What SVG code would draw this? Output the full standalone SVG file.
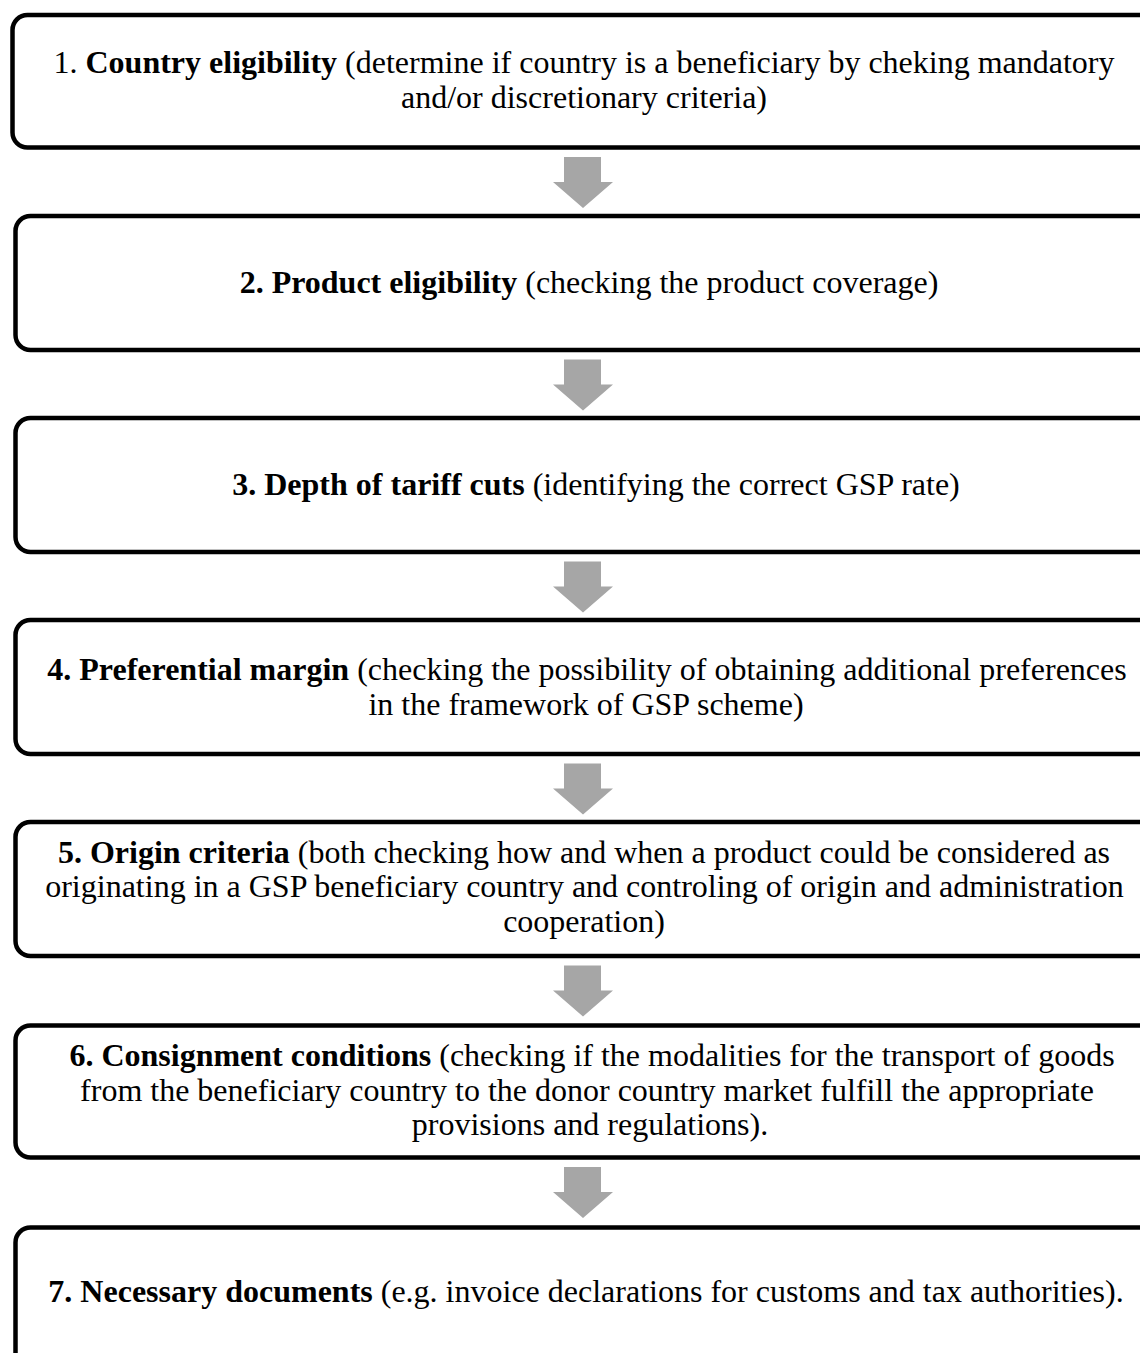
<svg xmlns="http://www.w3.org/2000/svg" width="1140" height="1353" viewBox="0 0 1140 1353">
<style>
.box{fill:#ffffff;stroke:#000000;stroke-width:4.5}
.t{font-family:"Liberation Serif","Times New Roman",serif;font-size:32px;fill:#000000;text-anchor:middle}
.b{font-weight:bold}
.arr{fill:#a6a6a6}
</style>
<defs>
<path id="arrow" d="M564,0 H601 V25 H613 L583,51 L553,25 H564 Z"/>
</defs>
<rect width="1140" height="1353" fill="#ffffff"/>
<g id="connectors">
<use href="#arrow" class="arr" transform="translate(0,157)"/>
<use href="#arrow" class="arr" transform="translate(0,359.5)"/>
<use href="#arrow" class="arr" transform="translate(0,561.5)"/>
<use href="#arrow" class="arr" transform="translate(0,763.5)"/>
<use href="#arrow" class="arr" transform="translate(0,965.5)"/>
<use href="#arrow" class="arr" transform="translate(0,1167)"/>
</g>
<g id="node1">
<rect class="box" x="12.5" y="15" width="1160" height="132.5" rx="15"/>
<text class="t" x="584" y="73">1. <tspan class="b">Country eligibility</tspan> (determine if country is a beneficiary by cheking mandatory</text>
<text class="t" x="584" y="108">and/or discretionary criteria)</text>
</g>
<g id="node2">
<rect class="box" x="15.5" y="216" width="1160" height="134" rx="15"/>
<text class="t" x="589" y="293"><tspan class="b">2. Product eligibility</tspan> (checking the product coverage)</text>
</g>
<g id="node3">
<rect class="box" x="15.5" y="418" width="1160" height="134" rx="15"/>
<text class="t" x="596" y="495"><tspan class="b">3. Depth of tariff cuts</tspan> (identifying the correct GSP rate)</text>
</g>
<g id="node4">
<rect class="box" x="15.5" y="620" width="1160" height="134" rx="15"/>
<text class="t" x="587" y="680"><tspan class="b">4. Preferential margin</tspan> (checking the possibility of obtaining additional preferences</text>
<text class="t" x="586" y="715">in the framework of GSP scheme)</text>
</g>
<g id="node5">
<rect class="box" x="15.5" y="822" width="1160" height="134" rx="15"/>
<text class="t" x="584" y="862.5"><tspan class="b">5. Origin criteria</tspan> (both checking how and when a product could be considered as</text>
<text class="t" x="584.5" y="897">originating in a GSP beneficiary country and controling of origin and administration</text>
<text class="t" x="584" y="932">cooperation)</text>
</g>
<g id="node6">
<rect class="box" x="15.5" y="1025.5" width="1160" height="132" rx="15"/>
<text class="t" x="592" y="1066"><tspan class="b">6. Consignment conditions</tspan> (checking if the modalities for the transport of goods</text>
<text class="t" x="587" y="1100.5">from the beneficiary country to the donor country market fulfill the appropriate</text>
<text class="t" x="590" y="1135">provisions and regulations).</text>
</g>
<g id="node7">
<rect class="box" x="15.5" y="1227.5" width="1160" height="160" rx="15"/>
<text class="t" x="586" y="1302"><tspan class="b">7. Necessary documents</tspan> (e.g. invoice declarations for customs and tax authorities).</text>
</g>
</svg>
